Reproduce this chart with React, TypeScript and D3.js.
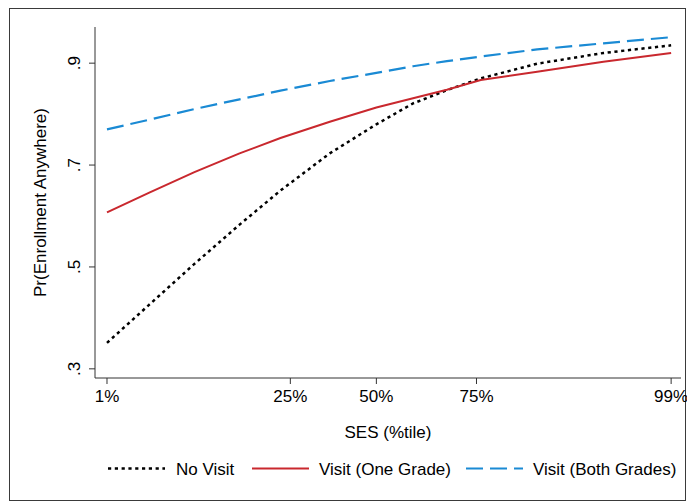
import React from 'react'
import * as d3 from 'd3'

// SES index values at which the predictions are plotted
const sesPoints = [-2.0, -1.7, -1.38, -1.06, -0.77, -0.42, -0.09, 0.17, 0.41, 0.65, 1.05, 1.52, 2.0]
const noVisit = [0.351, 0.426, 0.506, 0.583, 0.65, 0.723, 0.78, 0.821, 0.847, 0.87, 0.899, 0.92, 0.935]
const oneGrade = [0.607, 0.646, 0.686, 0.723, 0.753, 0.785, 0.813, 0.831, 0.848, 0.867, 0.883, 0.903, 0.92]
const bothGrades = [0.77, 0.789, 0.81, 0.829, 0.846, 0.865, 0.881, 0.894, 0.904, 0.913, 0.927, 0.939, 0.951]

// x ticks: SES value of each percentile
const xTickValues = [-2.0, -0.7, -0.09, 0.62, 2.0]
const xTickLabels = ['1%', '25%', '50%', '75%', '99%']
const yTickValues = [0.3, 0.5, 0.7, 0.9]
const yTickLabels = ['.3', '.5', '.7', '.9']

const seriesNames = ['No Visit', 'Visit (One Grade)', 'Visit (Both Grades)']

const width = 687
const height = 502
const font = 'Liberation Sans, Arial, sans-serif'
const fs = 17

const series = [
    {name: seriesNames[0], values: noVisit, color: '#000000', dash: '3.2,3.6', sw: 2.5},
    {name: seriesNames[1], values: oneGrade, color: '#c9282e', dash: null, sw: 2},
    {name: seriesNames[2], values: bothGrades, color: '#1a8ad4', dash: '17,7', sw: 2.2},
]

// legend: sample start x, text start x
const legendPos = [[108, 176], [252, 319], [466, 533]]

export default function App() {
    const x = d3.scaleLinear().domain([-2.085, 2.07]).range([95, 681])
    const y = d3.scaleLinear().domain([0.282, 0.971]).range([378, 27])

    const line = d3.line<number>()
        .x((d, i) => x(sesPoints[i]))
        .y(d => y(d))

    const [x0, x1] = x.range()
    const [y0, y1] = y.range()

    return (
        <svg width={width} height={height}
            style={{position: 'absolute', left: 0, top: 0, background: '#fff'}}
            fontFamily={font}>
            <rect x={9.5} y={8.5} width={676} height={492} fill="#fff" stroke="#3a3a3a" strokeWidth={1}/>
            {/* y axis */}
            <line x1={x0} x2={x0} y1={y1} y2={y0} stroke="#333" strokeWidth={1}/>
            {
                yTickValues.map((t, i) => (
                    <g key={i} transform={`translate(${x0},${y(t)})`}>
                        <line x1={-6} x2={0} stroke="#333"/>
                        <text transform="translate(-15,0) rotate(-90)" textAnchor="middle"
                            fontSize={fs} fill="#000">{yTickLabels[i]}</text>
                    </g>
                ))
            }
            <text transform={`translate(46,${(y0 + y1) / 2}) rotate(-90)`} textAnchor="middle"
                fontSize={fs} fill="#000">Pr(Enrollment Anywhere)</text>
            {/* x axis */}
            <line x1={x0} x2={x1} y1={y0} y2={y0} stroke="#333" strokeWidth={1}/>
            {
                xTickValues.map((t, i) => (
                    <g key={i} transform={`translate(${x(t)},${y0})`}>
                        <line y2={6} stroke="#333"/>
                        <text y={23.5} textAnchor="middle" fontSize={fs} fill="#000">{xTickLabels[i]}</text>
                    </g>
                ))
            }
            <text x={(x0 + x1) / 2} y={438} textAnchor="middle" fontSize={fs} fill="#000">SES (%tile)</text>
            {/* lines */}
            {
                series.map((s, i) => (
                    <path key={i} d={line(s.values) || ''} fill="none" stroke={s.color}
                        strokeWidth={s.sw} strokeDasharray={s.dash || undefined}/>
                ))
            }
            {/* legend */}
            {
                series.map((s, i) => (
                    <g key={i}>
                        <line x1={legendPos[i][0]} x2={legendPos[i][0] + 57} y1={468.5} y2={468.5}
                            stroke={s.color} strokeWidth={s.sw} strokeDasharray={s.dash || undefined}/>
                        <text x={legendPos[i][1]} y={475} fontSize={fs} fill="#000">{s.name}</text>
                    </g>
                ))
            }
        </svg>
    )
}
